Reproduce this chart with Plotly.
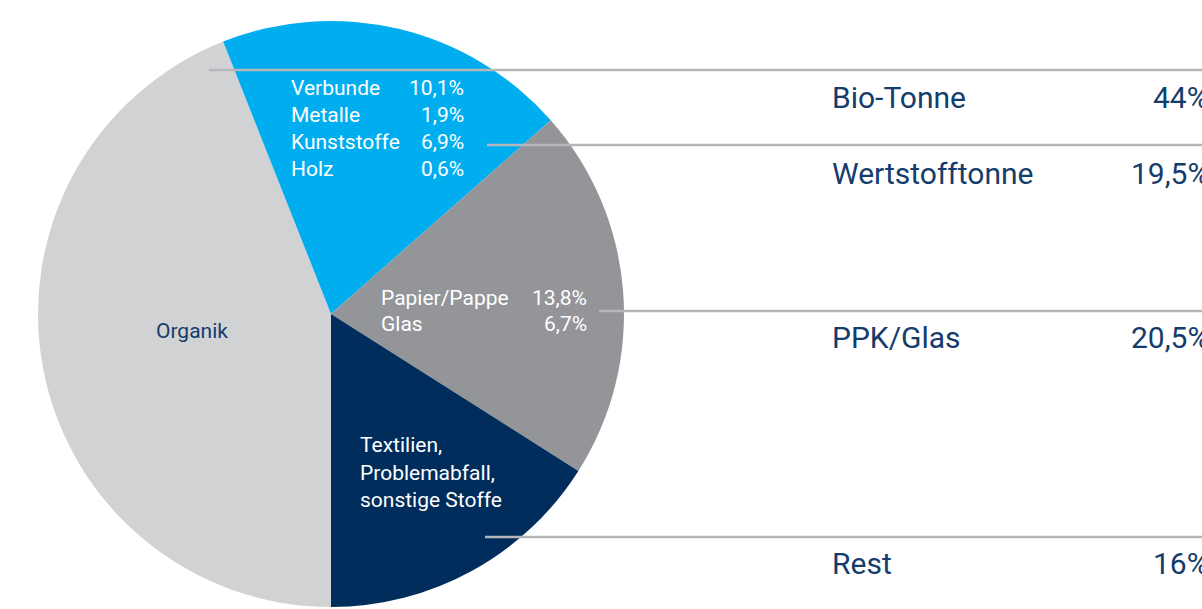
import plotly.graph_objects as go

# ---------------------------------------------------
# Data
# ---------------------------------------------------

BINS = ["Bio-Tonne", "Wertstofftonne", "PPK/Glas", "Rest"]
SHARES = [44.0, 19.5, 20.5, 16.0]
SHARE_TEXT = ["44%", "19,5%", "20,5%", "16%"]
SLICE_COLORS = ["#D1D2D4", "#00AEEF", "#939598", "#002D5B"]

WERTSTOFF_ITEMS = ["Verbunde", "Metalle", "Kunststoffe", "Holz"]
WERTSTOFF_VALUES = ["10,1%", "1,9%", "6,9%", "0,6%"]

PPK_ITEMS = ["Papier/Pappe", "Glas"]
PPK_VALUES = ["13,8%", "6,7%"]

REST_TEXT = ["Textilien,", "Problemabfall,", "sonstige Stoffe"]

W, H = 1202, 609
NAVY = "#143C6C"
LINE = "#B5B7BA"
FONT = "Roboto"
SMALL = 21
BIG = 30


def px(x):
    return x / W


def py(y):
    return 1 - y / H


def label(x, y, text, anchor, size, color):
    return dict(x=px(x), y=py(y), text=text, xanchor=anchor, yanchor="middle",
                showarrow=False, font={"size": size, "color": color})


fig = go.Figure(
    go.Pie(
        labels=BINS,
        values=SHARES,
        sort=False,
        direction="clockwise",
        rotation=180,
        marker={"colors": SLICE_COLORS, "line": {"width": 0}},
        textinfo="none",
        hoverinfo="label+percent",
        showlegend=False,
        domain={"x": [px(38), px(624)], "y": [py(607), py(21)]},
    )
)

annotations = [label(192, 331, "Organik", "center", SMALL, NAVY)]

# slice texts
for i, (name, val) in enumerate(zip(WERTSTOFF_ITEMS, WERTSTOFF_VALUES)):
    y = 88 + i * 27
    annotations.append(label(289, y, name, "left", SMALL, "white"))
    annotations.append(label(466, y, val, "right", SMALL, "white"))

for i, (name, val) in enumerate(zip(PPK_ITEMS, PPK_VALUES)):
    y = 298 + i * 26
    annotations.append(label(379, y, name, "left", SMALL, "white"))
    annotations.append(label(589, y, val, "right", SMALL, "white"))

for i, line in enumerate(REST_TEXT):
    annotations.append(label(358, 445 + i * 27.5, line, "left", SMALL, "white"))

# right-hand legend table
ROW_Y = [97, 173, 337, 563]
LINE_Y = [70, 145, 311, 537]
LINE_X0 = [209, 487, 599, 485]

for name, val, y in zip(BINS, SHARE_TEXT, ROW_Y):
    annotations.append(label(830, y, name, "left", BIG, NAVY))
    annotations.append(label(1211, y, val, "right", BIG, NAVY))

shapes = [
    dict(type="line", xref="paper", yref="paper", x0=px(x0), x1=1.01, y0=py(y), y1=py(y),
         line={"color": LINE, "width": 2.5})
    for x0, y in zip(LINE_X0, LINE_Y)
]

fig.update_layout(
    width=W,
    height=H,
    margin={"l": 0, "r": 0, "t": 0, "b": 0},
    paper_bgcolor="white",
    plot_bgcolor="white",
    font={"family": FONT},
    annotations=annotations,
    shapes=shapes,
)

fig.write_html(
    "out.html",
    config={"displayModeBar": False},
    post_script="document.body.style.margin='0';document.body.style.overflow='hidden';",
)
